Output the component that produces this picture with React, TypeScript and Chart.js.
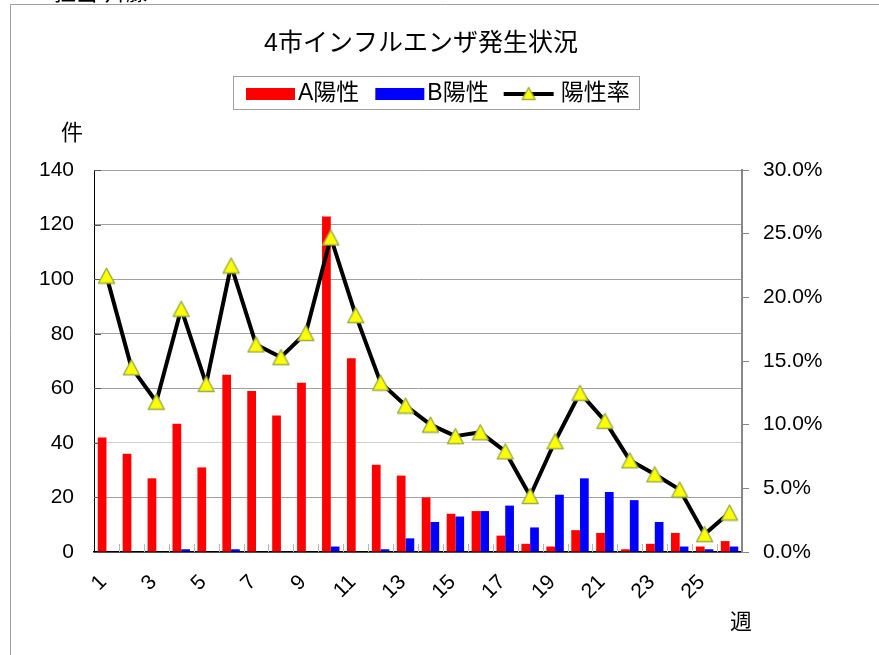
import { useEffect, useRef } from 'react';
import { Chart, registerables } from 'chart.js';

Chart.register(...registerables);

// ---- data ----
const weeks = ['1', '2', '3', '4', '5', '6', '7', '8', '9', '10', '11', '12', '13', '14', '15', '16', '17', '18', '19', '20', '21', '22', '23', '24', '25', '26'];
const positiveA = [42, 36, 27, 47, 31, 65, 59, 50, 62, 123, 71, 32, 28, 20, 14, 15, 6, 3, 2, 8, 7, 1, 3, 7, 2, 4];
const positiveB = [0, 0, 0, 1, 0, 1, 0, 0, 0, 2, 0, 1, 5, 11, 13, 15, 17, 9, 21, 27, 22, 19, 11, 2, 1, 2];
const positiveRate = [21.7, 14.5, 11.8, 19.1, 13.2, 22.5, 16.3, 15.3, 17.2, 24.7, 18.6, 13.3, 11.5, 10.0, 9.1, 9.4, 7.9, 4.4, 8.7, 12.5, 10.3, 7.2, 6.1, 4.9, 1.4, 3.1];

const countMax = 140;
const countStep = 20;
const rateMax = 30;
const rateStep = 5;

const titleText = '4市インフルエンザ発生状況';
const labelA = 'A陽性';
const labelB = 'B陽性';
const labelRate = '陽性率';
const yTitle = '件';
const xTitle = '週';
const cornerText = '担当:斉藤';

const FONT = '"Liberation Sans", "Noto Sans CJK JP", sans-serif';

function makeTriangle(w: number, h: number, lw: number) {
  const c = document.createElement('canvas');
  c.width = w;
  c.height = h;
  const g = c.getContext('2d')!;
  g.beginPath();
  g.moveTo(w / 2, lw);
  g.lineTo(w - lw, h - lw);
  g.lineTo(lw, h - lw);
  g.closePath();
  g.fillStyle = '#ffff00';
  g.fill();
  g.lineWidth = lw;
  g.lineJoin = 'round';
  g.strokeStyle = '#9aae4a';
  g.stroke();
  return c;
}

export default function App() {
  const ref = useRef<HTMLCanvasElement | null>(null);

  useEffect(() => {
    const canvas = ref.current;
    if (!canvas) return;
    const tri = makeTriangle(19, 18, 1.5);
    const triSmall = makeTriangle(16, 15, 1.5);

    const decor = {
      id: 'decor',
      beforeDraw(chart: any) {
        const ctx = chart.ctx;
        ctx.save();
        ctx.fillStyle = '#ffffff';
        ctx.fillRect(0, 0, chart.width, chart.height);
        ctx.restore();
      },
      beforeDatasetsDraw(chart: any) {
        const ctx = chart.ctx;
        const a = chart.chartArea;
        ctx.save();
        // inside ticks on left axis
        const ys = chart.scales.y;
        ctx.strokeStyle = '#555';
        ctx.lineWidth = 1;
        ys.ticks.forEach((t: any) => {
          const py = Math.round(ys.getPixelForValue(t.value)) + 0.5;
          ctx.beginPath();
          ctx.moveTo(a.left, py);
          ctx.lineTo(a.left + 7, py);
          ctx.stroke();
        });
        // minor ticks at category boundaries
        const n = weeks.length;
        const w = (a.right - a.left) / n;
        ctx.strokeStyle = '#b8b8b8';
        for (let i = 1; i < n; i++) {
          const px = Math.round(a.left + i * w) + 0.5;
          ctx.beginPath();
          ctx.moveTo(px, a.bottom);
          ctx.lineTo(px, a.bottom - 8);
          ctx.stroke();
        }
        ctx.restore();
      },
      afterDraw(chart: any) {
        const ctx = chart.ctx;
        const a = chart.chartArea;
        ctx.save();
        // outer frame
        ctx.strokeStyle = '#a0a0a0';
        ctx.lineWidth = 1;
        ctx.beginPath();
        ctx.moveTo(10.5, chart.height + 2);
        ctx.lineTo(10.5, 4.5);
        ctx.lineTo(chart.width + 2, 4.5);
        ctx.stroke();

        // cut-off text at top-left
        ctx.fillStyle = '#000';
        ctx.font = `22px ${FONT}`;
        ctx.textAlign = 'left';
        ctx.textBaseline = 'alphabetic';
        ctx.fillText(cornerText, 54, 0);

        // title
        ctx.font = `25px ${FONT}`;
        ctx.textAlign = 'center';
        ctx.textBaseline = 'middle';
        ctx.fillText(titleText, 421, 44);

        // legend
        ctx.strokeStyle = '#a0a0a0';
        ctx.lineWidth = 1;
        ctx.strokeRect(233.5, 76.5, 406, 33);
        ctx.font = `23px ${FONT}`;
        ctx.textAlign = 'left';
        ctx.textBaseline = 'middle';
        const ly = 94;
        let x = 246;
        ctx.fillStyle = '#ff0000';
        ctx.fillRect(x, ly - 6, 49, 12);
        x += 52;
        ctx.fillStyle = '#000';
        ctx.fillText(labelA, x, ly);
        x += ctx.measureText(labelA).width + 16;
        ctx.fillStyle = '#0000ff';
        ctx.fillRect(x, ly - 6, 49, 12);
        x += 52;
        ctx.fillStyle = '#000';
        ctx.fillText(labelB, x, ly);
        x += ctx.measureText(labelB).width + 15;
        ctx.strokeStyle = '#000';
        ctx.lineWidth = 4;
        ctx.beginPath();
        ctx.moveTo(x, ly);
        ctx.lineTo(x + 50, ly);
        ctx.stroke();
        ctx.drawImage(triSmall, x + 25 - 8, ly - 8);
        x += 57;
        ctx.fillText(labelRate, x, ly);

        // axis titles
        ctx.font = `22px ${FONT}`;
        ctx.textAlign = 'center';
        ctx.fillText(yTitle, a.left - 22, a.top - 36);
        ctx.fillText(xTitle, a.right - 1, a.bottom + 71);
        ctx.restore();
      },
    };

    const chart = new Chart(canvas, {
      type: 'bar',
      data: {
        labels: weeks,
        datasets: [
          {
            type: 'line',
            label: labelRate,
            data: positiveRate,
            yAxisID: 'y1',
            borderColor: '#000000',
            borderWidth: 4,
            borderJoinStyle: 'round',
            tension: 0,
            pointStyle: tri as any,
            pointRadius: 9,
            pointHoverRadius: 9,
            order: 0,
          } as any,
          {
            type: 'bar',
            label: labelA,
            data: positiveA,
            yAxisID: 'y',
            backgroundColor: '#ff0000',
            categoryPercentage: 0.7,
            barPercentage: 1.0,
            order: 1,
          },
          {
            type: 'bar',
            label: labelB,
            data: positiveB,
            yAxisID: 'y',
            backgroundColor: '#0000ff',
            categoryPercentage: 0.7,
            barPercentage: 1.0,
            order: 1,
          },
        ],
      },
      options: {
        responsive: false,
        devicePixelRatio: 1,
        animation: false,
        layout: { padding: { top: 170, left: 0, right: 0, bottom: 0 } },
        plugins: {
          legend: { display: false },
          title: { display: false },
          tooltip: { enabled: false },
        },
        scales: {
          x: {
            offset: true,
            grid: { display: false, drawTicks: false },
            border: { display: true, color: '#000000', width: 1.5 },
            ticks: {
              autoSkip: false,
              minRotation: 45,
              maxRotation: 45,
              padding: 18,
              labelOffset: -3,
              color: '#000000',
              font: { family: FONT, size: 21 },
              callback: (_v: any, i: number) => (i % 2 === 0 ? weeks[i] : ''),
            },
            afterFit: (s: any) => {
              s.height = 103;
            },
          },
          y: {
            position: 'left',
            min: 0,
            max: countMax,
            ticks: {
              stepSize: countStep,
              padding: 20,
              color: '#000000',
              font: { family: FONT, size: 21 },
            },
            grid: {
              drawTicks: false,
              color: (c: any) => (c.tick && c.tick.value === 40 ? '#d0d0d0' : '#a0a0a0'),
              lineWidth: 1,
            },
            border: { display: true, color: '#000000', width: 1 },
            afterFit: (s: any) => {
              s.width = 94;
            },
          },
          y1: {
            position: 'right',
            min: 0,
            max: rateMax,
            ticks: {
              stepSize: rateStep,
              padding: 14,
              color: '#000000',
              font: { family: FONT, size: 21 },
              callback: (v: any) => Number(v).toFixed(1) + '%',
            },
            grid: {
              drawOnChartArea: false,
              drawTicks: true,
              tickLength: 7,
              color: '#888888',
            },
            border: { display: true, color: '#888888', width: 2 },
            afterFit: (s: any) => {
              s.width = 137;
            },
          },
        },
      } as any,
      plugins: [decor],
    });

    return () => chart.destroy();
  }, []);

  return (
    <div style={{ position: 'absolute', left: 0, top: 0, width: 879, height: 655 }}>
      <canvas ref={ref} width={879} height={655} style={{ display: 'block' }} />
    </div>
  );
}
